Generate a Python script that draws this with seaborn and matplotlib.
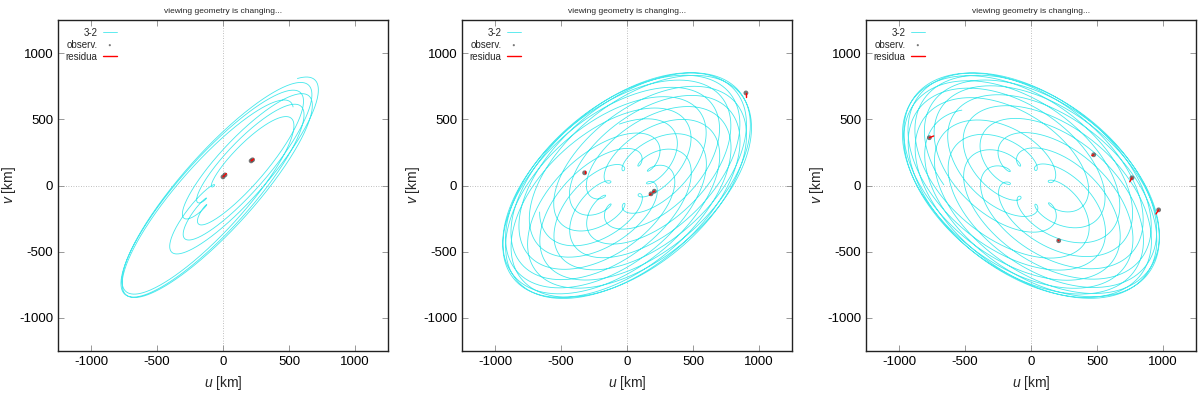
import numpy as np
import pandas as pd
import matplotlib
matplotlib.use("Agg")
import matplotlib.pyplot as plt
import seaborn as sns

sns.set_style("ticks")
plt.rcParams['font.family'] = ['Liberation Sans', 'DejaVu Sans']
plt.rcParams['mathtext.fontset'] = 'custom'
plt.rcParams['mathtext.it'] = 'Liberation Sans:italic'
plt.rcParams['mathtext.rm'] = 'Liberation Sans'
plt.rcParams['axes.unicode_minus'] = False

# --- relative orbit 3-2 (two moons near 3:2 period ratio), km ---
semi_axis_3 = 650.0
semi_axis_2 = 460.0
period_ratio = 1.53

# --- viewing geometry of each panel ---
node_angle = [48.0, 39.5, -36.8]     # deg, orientation of projected orbit
cos_inc = [0.26, 0.56, 0.60]
n_revs = [6.0, 16.0, 16.0]
phase_3 = [0.10, 0.30, 0.55]
phase_2 = [0.35, 0.05, 0.80]

# --- observations and residuals (u, v in km) ---
obs_u = [[0, 15, 213, 224],
         [-321, 182, 207, 901],
         [-770, 475, 765, 967, 210]]
obs_v = [[65, 80, 186, 194],
         [96, -63, -43, 699],
         [361, 232, 58, -184, -417]]
fit_u = [[10, 25, 223, 232],
         [-321, 170, 197, 901],
         [-737, 462, 748, 947, 205]]
fit_v = [[75, 90, 193, 200],
         [106, -72, -50, 669],
         [374, 226, 28, -215, -412]]

ticks = [-1000, -500, 0, 500, 1000]
title = "viewing geometry is changing..."


def sky_track(k):
    t = np.linspace(0, n_revs[k], int(n_revs[k] * 500))
    z = (semi_axis_3 * np.exp(2j * np.pi * (t + phase_3[k]))
         - semi_axis_2 * np.exp(2j * np.pi * (period_ratio * t + phase_2[k])))
    x, y = z.real, z.imag * cos_inc[k]
    a = np.radians(node_angle[k])
    return pd.DataFrame({"u": x * np.cos(a) - y * np.sin(a),
                         "v": x * np.sin(a) + y * np.cos(a)})


fig = plt.figure(figsize=(12, 3.94), dpi=100)
lefts = [58, 462, 866]

for k in range(3):
    ax = fig.add_axes([lefts[k] / 1200, 43 / 394, 330 / 1200, 331 / 394])
    ax.axhline(0, color="#aaaaaa", lw=0.6, ls=(0, (1, 2)), zorder=0)
    ax.axvline(0, color="#aaaaaa", lw=0.6, ls=(0, (1, 2)), zorder=0)

    track = sky_track(k)
    sns.lineplot(data=track, x="u", y="v", sort=False, estimator=None,
                 color="#45e8ec", lw=0.6, label="3-2", ax=ax)

    obs = pd.DataFrame({"u": obs_u[k], "v": obs_v[k]})
    sns.scatterplot(data=obs, x="u", y="v", color="#555555", s=12,
                    edgecolor="none", alpha=0.8, label="observ.", ax=ax, zorder=4)

    res = pd.DataFrame({"u": obs_u[k] + fit_u[k],
                        "v": obs_v[k] + fit_v[k],
                        "seg": list(range(len(obs_u[k]))) * 2})
    sns.lineplot(data=res, x="u", y="v", units="seg", estimator=None, sort=False,
                 color="red", lw=1.0, label="residua", ax=ax, zorder=5)

    handles, labels = ax.get_legend_handles_labels()
    seen = {}
    for h, l in zip(handles, labels):
        seen.setdefault(l, h)
    ax.legend([seen[l] for l in ["3-2", "observ.", "residua"]],
              ["3-2", "observ.", "residua"], loc="upper left", markerfirst=False,
              frameon=False, fontsize=7, handlelength=1.5, handletextpad=0.5,
              labelspacing=0.2, borderaxespad=0.4, markerscale=0.45)

    ax.set_xlim(-1250, 1250)
    ax.set_ylim(-1250, 1250)
    ax.set_xticks(ticks)
    ax.set_yticks(ticks)
    ax.tick_params(direction="in", length=4, width=0.6, labelsize=9.5,
                   top=True, right=True, colors="#888888", labelcolor="black")
    for s in ax.spines.values():
        s.set_linewidth(1.0)
        s.set_color("#222222")
    ax.set_xlabel("$u$ [km]", fontsize=10)
    ax.set_ylabel("$v$ [km]", fontsize=10)
    ax.xaxis.set_label_coords(0.5, -0.07)
    ax.yaxis.set_label_coords(-0.12, 0.5)
    ax.set_title(title, fontsize=6, pad=5)

fig.savefig("out.png", dpi=100)
